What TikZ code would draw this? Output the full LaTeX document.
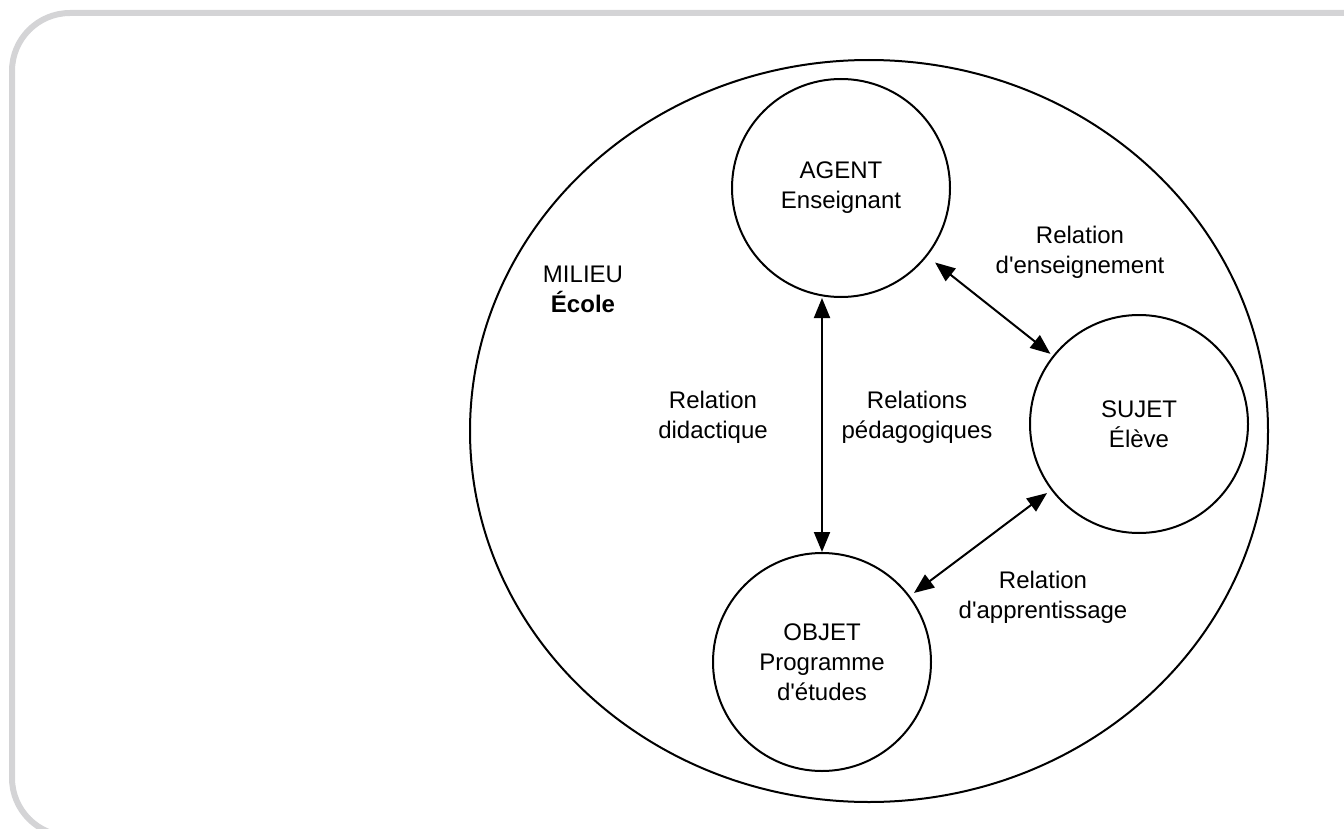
\documentclass[tikz,border=0pt]{standalone}
\usepackage{fontspec}
\setmainfont{Liberation Sans}
\usetikzlibrary{arrows.meta,shapes.geometric}
\definecolor{framegray}{RGB}{212,212,214}
\newcommand{\apos}{\textquotesingle}
\begin{document}
\begin{tikzpicture}[x=0.5pt,y=-0.5pt,
  every node/.style={font=\fontsize{12}{15}\selectfont, align=center, inner sep=0pt},
  actor/.style={circle, draw, line width=1pt, minimum size=109pt},
  env/.style={ellipse, draw, line width=1pt, minimum width=399pt, minimum height=371pt},
  rel/.style={{Triangle[length=10pt,width=8pt]}-{Triangle[length=10pt,width=8pt]}, line width=1pt},
  lbl/.style={text=black}]
\useasboundingbox (0,0) rectangle (1344,829);
\clip (0,0) rectangle (1344,829);
\draw[framegray, line width=3pt, rounded corners=29pt] (12,13) rectangle (1420,836);

\node[env] (milieu) at (869,431) {};

\node[actor] (agent) at (841,188) {\raisebox{-1.5pt}{\begin{tabular}{@{}c@{}}AGENT\\Enseignant\end{tabular}}};
\node[actor] (sujet) at (1139,424) {SUJET\\Élève};
\node[actor] (objet) at (822,662) {OBJET\\Programme\\d\apos études};

\node[lbl] (lmilieu) at (583,289) {MILIEU\\\textbf{École}};
\node[lbl] (ldid) at (713,417) {Relation\\didactique};
\node[lbl] (lped) at (917,417) {Relations\\pédagogiques};
\node[lbl] (lens) at (1080,252) {Relation\\d\apos enseignement};
\node[lbl] (lapp) at (1043,597) {Relation\\d\apos apprentissage};

\draw[rel] (agent.south -| objet.north) -- (objet.north);
\draw[rel, shorten <=5pt, shorten >=1.5pt] (agent) -- (sujet);
\draw[rel, shorten <=2.5pt, shorten >=2.5pt] (sujet) -- (objet);
\end{tikzpicture}
\end{document}
